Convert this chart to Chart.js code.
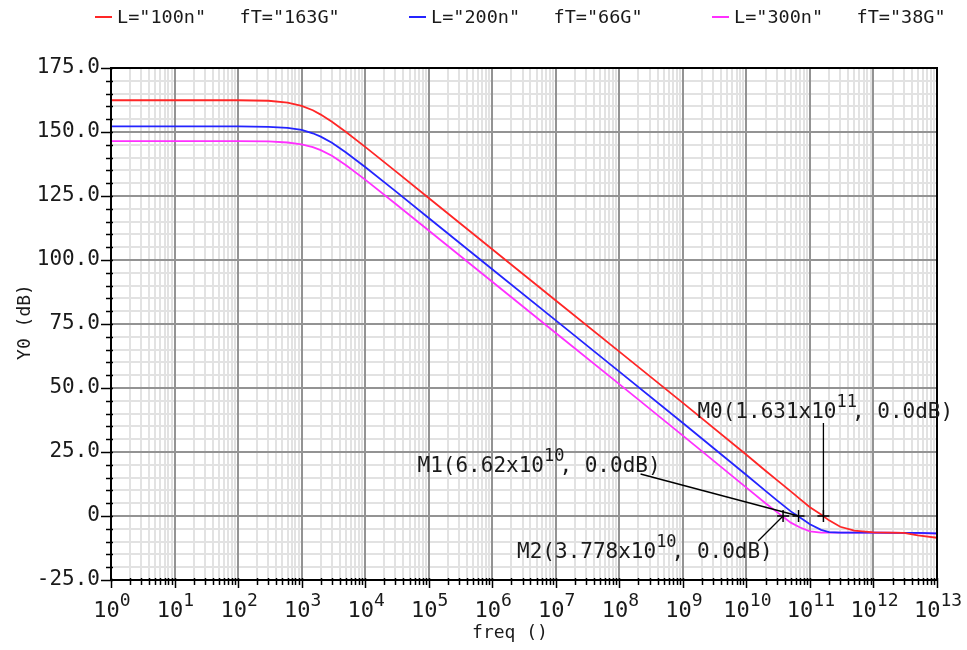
<!DOCTYPE html>
<html>
<head>
<meta charset="utf-8">
<script src="https://cdn.jsdelivr.net/npm/chart.js@4.4.1/dist/chart.umd.min.js"></script>
<style>
    html, body { margin: 0; padding: 0; background: #ffffff; }
    canvas { display: block; }
</style>
</head>
<body>
<canvas id="gain-chart" width="967" height="650"></canvas>
<script>
// ========================================
// Data
// ========================================
const FREQ = [1, 10, 100, 300, 600, 1e3, 1.5e3, 2e3, 3e3, 5e3, 1e4, 3e4, 1e5, 1e6, 1e7, 1e8,
    1e9, 1e10, 2e10, 3e10, 5e10, 7e10, 1e11, 1.5e11, 2e11, 3e11, 5e11, 1e12, 3e12, 5e12, 1e13];

const GAIN_100N = [162.4, 162.4, 162.4, 162.2, 161.5, 160.2, 158.5, 156.8, 154.0, 150.0, 144.2, 134.7,
    124.2, 104.2, 84.2, 64.2, 44.2, 23.9, 17.7, 14.1, 9.6, 6.6, 3.4, 0.6, -1.7, -4.2, -5.7, -6.4,
    -6.6, -7.6, -8.5];

const GAIN_200N = [152.2, 152.2, 152.2, 152.0, 151.6, 150.8, 149.5, 148.2, 145.8, 142.0, 136.3, 126.9,
    116.4, 96.4, 76.4, 56.4, 36.3, 16.0, 9.8, 6.2, 1.8, -0.6, -3.2, -5.4, -6.3, -6.5, -6.5, -6.5,
    -6.6, -6.6, -6.8];

const GAIN_300N = [146.4, 146.4, 146.4, 146.3, 145.9, 145.2, 144.1, 142.9, 140.7, 137.0, 131.4, 122.0,
    111.5, 91.5, 71.5, 51.5, 31.4, 11.1, 5.0, 1.6, -2.6, -4.5, -6.0, -6.5, -6.5, -6.5, -6.5, -6.5,
    -6.6, -6.7, -6.9];

const SERIES_LABELS = ['L="100n"   fT="163G"', 'L="200n"   fT="66G"', 'L="300n"   fT="38G"'];

// axis ticks
const X_DECADES = [0, 1, 2, 3, 4, 5, 6, 7, 8, 9, 10, 11, 12, 13];
const X_MINOR_MULTS = [2, 3, 4, 5, 6, 7, 8, 9];
const Y_MIN = -25;
const Y_MAX = 175;
const Y_STEP = 5;
const Y_MAJOR_STEP = 25;

// markers
const MARKER_NAMES = ['M0', 'M1', 'M2'];
const MARKER_FREQ = [1.631e11, 6.62e10, 3.778e10];
const MARKER_MANTISSA = ['1.631', '6.62', '3.778'];
const MARKER_EXP = ['11', '10', '10'];
const MARKER_DB = [0, 0, 0];

// ========================================
// Helpers
// ========================================
const MONO = '"DejaVu Sans Mono", "Liberation Mono", monospace';

function isDecade(v) {
    return X_DECADES.some(e => Math.abs(Math.log10(v) - e) < 1e-9);
}

function line(ctx, x1, y1, x2, y2) {
    ctx.beginPath();
    ctx.moveTo(x1, y1);
    ctx.lineTo(x2, y2);
    ctx.stroke();
}

// ========================================
// Plugin: grid, frame, ticks, legend, markers
// ========================================
const plotDecor = {
    id: 'plotDecor',
    beforeDatasetsDraw(chart) {
        const { ctx, chartArea: a, scales: { x, y } } = chart;
        ctx.save();
        ctx.lineWidth = 2;

        // minor grid
        ctx.strokeStyle = '#e2e2e2';
        x.ticks.forEach(t => {
            if (isDecade(t.value)) return;
            const px = Math.round(x.getPixelForValue(t.value));
            line(ctx, px, a.top, px, a.bottom);
        });
        y.ticks.forEach(t => {
            if (t.value % Y_MAJOR_STEP === 0) return;
            const py = Math.round(y.getPixelForValue(t.value));
            line(ctx, a.left, py, a.right, py);
        });

        // major grid
        ctx.strokeStyle = '#939393';
        x.ticks.forEach(t => {
            if (!isDecade(t.value)) return;
            const px = Math.round(x.getPixelForValue(t.value));
            line(ctx, px, a.top, px, a.bottom);
        });
        y.ticks.forEach(t => {
            if (t.value % Y_MAJOR_STEP !== 0) return;
            const py = Math.round(y.getPixelForValue(t.value));
            line(ctx, a.left, py, a.right, py);
        });
        ctx.restore();
    },
    afterDatasetsDraw(chart) {
        const { ctx, chartArea: a, scales: { x, y } } = chart;
        ctx.save();

        // frame
        ctx.strokeStyle = '#000000';
        ctx.lineWidth = 2;
        ctx.strokeRect(Math.round(a.left), Math.round(a.top),
            Math.round(a.right - a.left), Math.round(a.bottom - a.top));

        // tick marks
        ctx.lineWidth = 1.5;
        x.ticks.forEach(t => {
            const px = Math.round(x.getPixelForValue(t.value)) + 0.5;
            const len = isDecade(t.value) ? 8 : 5;
            line(ctx, px, a.bottom - 2, px, a.bottom + len);
        });
        y.ticks.forEach(t => {
            const py = Math.round(y.getPixelForValue(t.value)) + 0.5;
            const len = t.value % Y_MAJOR_STEP === 0 ? 10 : 5;
            line(ctx, a.left - len, py, a.left + 2, py);
        });

        // x tick labels 10^n
        ctx.fillStyle = '#1a1a1a';
        ctx.textBaseline = 'alphabetic';
        ctx.textAlign = 'left';
        X_DECADES.forEach(e => {
            const px = x.getPixelForValue(Math.pow(10, e));
            ctx.font = '22px ' + MONO;
            const wBase = ctx.measureText('10').width;
            ctx.font = '18px ' + MONO;
            const wExp = ctx.measureText(String(e)).width;
            const start = px - (wBase + wExp) / 2 + 1;
            ctx.font = '22px ' + MONO;
            ctx.fillText('10', start, 617);
            ctx.font = '18px ' + MONO;
            ctx.fillText(String(e), start + wBase, 606);
        });

        // axis titles
        ctx.font = '18px ' + MONO;
        ctx.textAlign = 'center';
        ctx.textBaseline = 'middle';
        ctx.fillText('freq ()', 510, 633);
        ctx.save();
        ctx.translate(25, 322);
        ctx.rotate(-Math.PI / 2);
        ctx.fillText('Y0 (dB)', 0, 0);
        ctx.restore();

        // legend
        const legendX = [95, 409, 712];
        chart.data.datasets.forEach((ds, i) => {
            ctx.strokeStyle = ds.borderColor;
            ctx.lineWidth = 2;
            line(ctx, legendX[i], 17, legendX[i] + 17, 17);
            ctx.fillStyle = '#1a1a1a';
            ctx.font = '18.5px ' + MONO;
            ctx.textAlign = 'left';
            ctx.textBaseline = 'middle';
            ctx.fillText(ds.label, legendX[i] + 22, 18);
        });

        // markers
        const layout = [
            { tx: -126, ty: -98, lx1: 0, ly1: -93 },
            { tx: -381, ty: -44, lx1: -158, ly1: -42 },
            { tx: -266, ty: 42, lx1: -25, ly1: 25 }
        ];
        ctx.strokeStyle = '#000000';
        ctx.fillStyle = '#1a1a1a';
        ctx.textAlign = 'left';
        ctx.textBaseline = 'alphabetic';
        MARKER_NAMES.forEach((name, i) => {
            const mx = x.getPixelForValue(MARKER_FREQ[i]);
            const my = y.getPixelForValue(MARKER_DB[i]);
            const L = layout[i];

            // cross
            ctx.lineWidth = 1.5;
            line(ctx, mx - 6, my, mx + 6, my);
            line(ctx, mx, my - 6, mx, my + 6);

            // leader
            ctx.lineWidth = 1.3;
            line(ctx, mx + L.lx1, my + L.ly1, mx, my);

            // label
            const head = name + '(' + MARKER_MANTISSA[i] + 'x10';
            const tail = ', ' + MARKER_DB[i].toFixed(1) + 'dB)';
            let tx = mx + L.tx;
            const ty = my + L.ty;
            ctx.font = '21px ' + MONO;
            ctx.fillText(head, tx, ty);
            tx += ctx.measureText(head).width;
            ctx.font = '17px ' + MONO;
            ctx.fillText(MARKER_EXP[i], tx, ty - 11);
            tx += ctx.measureText(MARKER_EXP[i]).width - 5;
            ctx.font = '21px ' + MONO;
            ctx.fillText(tail, tx, ty);
        });

        ctx.restore();
    }
};

// ========================================
// Chart
// ========================================
function toPoints(values) {
    return FREQ.map((f, i) => ({ x: f, y: values[i] }));
}

const ctx = document.getElementById('gain-chart').getContext('2d');

new Chart(ctx, {
    type: 'line',
    data: {
        datasets: [
            { label: SERIES_LABELS[0], data: toPoints(GAIN_100N), borderColor: 'rgb(255, 38, 38)' },
            { label: SERIES_LABELS[1], data: toPoints(GAIN_200N), borderColor: 'rgb(36, 36, 255)' },
            { label: SERIES_LABELS[2], data: toPoints(GAIN_300N), borderColor: 'rgb(255, 48, 255)' }
        ]
    },
    options: {
        responsive: false,
        animation: false,
        devicePixelRatio: 1,
        layout: { padding: { top: 68, right: 30, bottom: 0, left: 0 } },
        elements: {
            line: { borderWidth: 1.8, tension: 0, fill: false },
            point: { radius: 0, hoverRadius: 0 }
        },
        plugins: {
            legend: { display: false },
            tooltip: { enabled: false }
        },
        scales: {
            x: {
                type: 'logarithmic',
                min: 1,
                max: 1e13,
                grid: { display: false, drawTicks: false },
                border: { display: false },
                ticks: { display: false },
                afterBuildTicks(scale) {
                    const ticks = [];
                    X_DECADES.forEach(e => {
                        ticks.push({ value: Math.pow(10, e) });
                        if (e < X_DECADES[X_DECADES.length - 1]) {
                            X_MINOR_MULTS.forEach(m => ticks.push({ value: m * Math.pow(10, e) }));
                        }
                    });
                    scale.ticks = ticks;
                },
                afterFit(scale) {
                    scale.height = 70;
                    scale.paddingLeft = 0;
                    scale.paddingRight = 0;
                }
            },
            y: {
                type: 'linear',
                min: Y_MIN,
                max: Y_MAX,
                grid: { display: false, drawTicks: false },
                border: { display: false },
                ticks: {
                    stepSize: Y_STEP,
                    autoSkip: false,
                    padding: 11,
                    color: '#1a1a1a',
                    font: { family: MONO, size: 21 },
                    callback: function(value) {
                        if (value % Y_MAJOR_STEP !== 0) return '';
                        return value === 0 ? '0' : value.toFixed(1);
                    }
                },
                afterFit(scale) {
                    scale.width = 111;
                    scale.paddingTop = 0;
                    scale.paddingBottom = 0;
                }
            }
        }
    },
    plugins: [plotDecor]
});
</script>
</body>
</html>
